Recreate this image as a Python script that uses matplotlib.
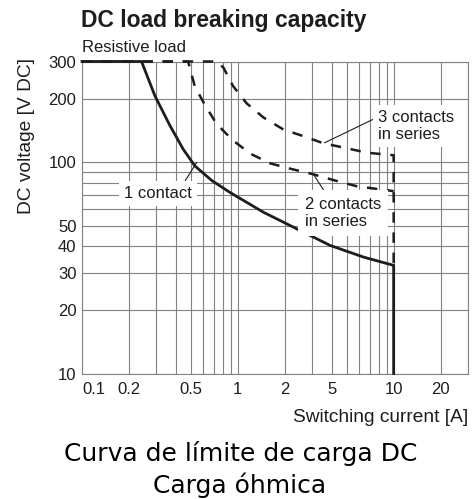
import matplotlib
matplotlib.use("Agg")
import matplotlib.pyplot as plt
import matplotlib.ticker as mticker

# switching current [A] / DC voltage [V]
ONE_I = [0.1, 0.241, 0.294, 0.367, 0.447, 0.531, 0.68, 0.89, 1.46, 2.39, 3.91, 6.39, 10, 10]
ONE_V = [300, 300, 206, 149, 115, 96, 82, 72, 58, 48.4, 40.4, 35.6, 32.5, 10]

TWO_I = [0.1, 0.48, 0.53, 0.62, 0.73, 0.93, 1.2, 1.6, 2.2, 3.0, 4.2, 5.8, 10]
TWO_V = [300, 300, 228, 185, 152, 127, 110, 99, 93, 88, 82, 77, 73]

THREE_I = [0.1, 0.74, 0.81, 0.93, 1.14, 1.46, 1.96, 2.63, 3.54, 4.88, 6.72, 10, 10]
THREE_V = [300, 300, 280, 230, 190, 163, 143, 133, 123, 117, 111, 108, 32.5]

X_GRID = [0.1, 0.2, 0.3, 0.4, 0.5, 0.6, 0.7, 0.8, 0.9, 1, 2, 3, 4, 5, 6, 7, 8, 9, 10, 20, 30]
Y_GRID = [10, 20, 30, 40, 50, 60, 70, 80, 90, 100, 200, 300]
X_TICKS = [0.1, 0.2, 0.5, 1, 2, 4, 10, 20]
X_LABELS = ["0.1", "0.2", "0.5", "1", "2", "5", "10", "20"]
Y_TICKS = [10, 20, 30, 40, 50, 100, 200, 300]
Y_LABELS = ["10", "20", "30", "40", "50", "100", "200", "300"]

plt.rcParams["font.family"] = ["Liberation Sans", "DejaVu Sans"]
plt.rcParams["lines.scale_dashes"] = False

W, H = 476, 499
fig = plt.figure(figsize=(W / 100, H / 100), dpi=100)
ax = fig.add_axes([82 / W, (H - 373.5) / H, (468 - 82) / W, (373.5 - 61.5) / H])

ink = "#1f1c1d"
grid_c = "#828282"

ax.set_xscale("log")
ax.set_yscale("log")
ax.set_xlim(0.1, 30)
ax.set_ylim(10, 300)

ax.set_xticks(X_GRID, minor=True)
ax.set_yticks(Y_GRID, minor=True)
ax.set_xticks(X_TICKS, X_LABELS)
ax.set_yticks(Y_TICKS, Y_LABELS)
ax.xaxis.set_minor_formatter(mticker.NullFormatter())
ax.yaxis.set_minor_formatter(mticker.NullFormatter())
ax.tick_params(which="both", length=0, labelsize=12, colors=ink)
ax.tick_params(axis="x", pad=6)
ax.tick_params(axis="y", pad=4)
ax.xaxis.get_majorticklabels()[0].set_horizontalalignment("left")
ax.grid(True, which="both", color=grid_c, lw=0.8)
ax.set_axisbelow(True)
for s in ax.spines.values():
    s.set_color(grid_c)
    s.set_linewidth(0.8)

ax.plot(ONE_I, ONE_V, color=ink, lw=2.0, clip_on=False, zorder=4)
ax.plot(TWO_I, TWO_V, color=ink, lw=1.8, dashes=(7.5, 7), clip_on=False, zorder=3)
ax.plot(THREE_I, THREE_V, color=ink, lw=1.8, dashes=(7.5, 7), clip_on=False, zorder=3)

box = dict(boxstyle="square,pad=0.3", fc="white", ec="none")
box2 = dict(boxstyle="square,pad=0.42", fc="white", ec="none")
arrow = dict(arrowstyle="-", color=ink, lw=0.8, shrinkA=0, shrinkB=0)
ax.annotate("1 contact", xy=(0.545, 99.8), xytext=(0.309, 71.4), ha="center", va="center",
            fontsize=12, color=ink, bbox=box, zorder=5,
            arrowprops=dict(arrow, relpos=(0.85, 1.0)))
ax.annotate("2 contacts\nin series", xy=(3.05, 88), xytext=(2.70, 57.5), ha="left", va="center",
            fontsize=12, color=ink, bbox=box2, zorder=5,
            arrowprops=dict(arrow, relpos=(0.3, 1.0)))
ax.annotate("3 contacts\nin series", xy=(3.6, 123.6), xytext=(7.94, 148.6), ha="left", va="center",
            fontsize=12, color=ink, bbox=box, zorder=5,
            arrowprops=dict(arrow, relpos=(0.02, 0.8)))

fig.text(81 / W, 1 - 20 / H, "DC load breaking capacity", ha="left", va="center",
         fontsize=16.5, fontweight="bold", color=ink)
fig.text(82 / W, 1 - 47 / H, "Resistive load", ha="left", va="center", fontsize=12, color=ink)
fig.text(26.5 / W, 1 - 136.5 / H, "DC voltage [V DC]", rotation=90, ha="center", va="center",
         fontsize=13.8, color=ink)
fig.text(468 / W, 1 - 417 / H, "Switching current [A]", ha="right", va="center",
         fontsize=13.8, color=ink)

fig.text(241 / W, 1 - 461 / H, "Curva de límite de carga DC", ha="center", va="baseline",
         fontsize=18, color="black", family=["DejaVu Sans"])
fig.text(240 / W, 1 - 493 / H, "Carga óhmica", ha="center", va="baseline",
         fontsize=18, color="black", family=["DejaVu Sans"])

fig.savefig("out.png", dpi=100)
